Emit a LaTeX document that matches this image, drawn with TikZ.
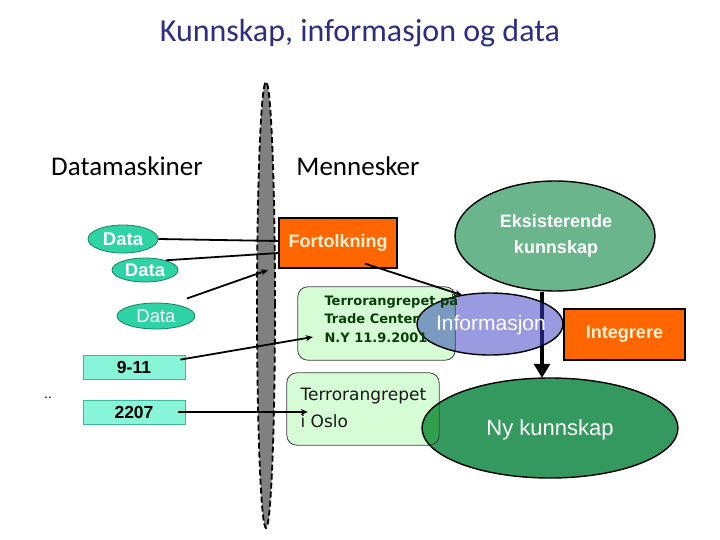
\documentclass[tikz,border=0pt]{standalone}
\usepackage{fontspec}
\setmainfont{Liberation Sans}
\newfontfamily\calfont{Carlito}
\newfontfamily\dvfont{DejaVu Sans}
\usetikzlibrary{shapes.geometric,arrows.meta}
\definecolor{titleblue}{HTML}{2E2E80}
\definecolor{datateal}{HTML}{2ED3A6}
\definecolor{dataedge}{HTML}{1E8060}
\definecolor{numfill}{HTML}{88F5D8}
\definecolor{numedge}{HTML}{3CB89A}
\definecolor{orangebox}{HTML}{FF6600}
\definecolor{creamtext}{HTML}{FFF2D5}
\definecolor{lightgreen}{HTML}{D6FCD6}
\definecolor{infoblue}{HTML}{9A9AE0}
\definecolor{infoover}{HTML}{7A9AC0}
\definecolor{eksgreen}{HTML}{6BB58D}
\definecolor{nygreen}{HTML}{33995F}
\definecolor{nyover}{HTML}{30A04E}
\definecolor{lensgray}{HTML}{808080}
\definecolor{darkgreentext}{HTML}{0B3D0B}
\definecolor{navyline}{HTML}{1E1E6A}
\tikzset{
  dataell/.style={ellipse, fill=datateal, draw=dataedge, line width=0.8pt, inner sep=0pt, text=white, font=\bfseries\fontsize{18.5}{20}\selectfont},
  numbox/.style={rectangle, fill=numfill, draw=numedge, line width=0.8pt, minimum width=102pt, minimum height=24pt, inner sep=0pt, font=\bfseries\fontsize{17.5}{19}\selectfont},
  orangerect/.style={rectangle, fill=orangebox, draw=black, line width=1.2pt, inner sep=0pt, text=creamtext, font=\bfseries\fontsize{18}{19}\selectfont},
  conn/.style={line width=1.8pt, -{Stealth[length=7pt,width=6pt]}},
  plainconn/.style={line width=1.8pt},
  headtext/.style={font=\calfont\fontsize{27}{30}\selectfont, anchor=base}
}
\begin{document}
\begin{tikzpicture}[x=1pt,y=-1pt]
\useasboundingbox[fill=white] (0,0) rectangle (720,540);

% title and headings
\node[font=\calfont\fontsize{32}{36}\selectfont, text=titleblue, anchor=base] (title) at (360,42) {Kunnskap, informasjon og data};
\node[headtext] (maskiner) at (127,176) {Datamaskiner};
\node[headtext] (mennesker) at (358,176) {Mennesker};

% lens
\node[ellipse, fill=lensgray, draw=black, line width=1.8pt, dash pattern=on 6pt off 3pt, minimum width=18pt, minimum height=446pt, inner sep=0pt] (lens) at (266,305) {};

% data side
\node[dataell, minimum width=70pt, minimum height=28pt] (d1) at (123,239) {Data};
\node[dataell, minimum width=66pt, minimum height=24pt] (d2) at (145,270) {Data};
\node[dataell, minimum width=78pt, minimum height=26pt, font=\fontsize{18.5}{20}\selectfont] (d3) at (156,316) {Data};
\node[numbox] (n911) at (134,367) {9-11};
\node[numbox] (n2207) at (134,412) {2207};
\node[font=\fontsize{14}{16}\selectfont, anchor=base] (dots) at (48,398) {..};

% human side shapes
\node[orangerect, minimum width=118pt, minimum height=50pt] (fort) at (338,243) {Fortolkning};
\node[ellipse, fill=eksgreen, draw=black, line width=1.4pt, minimum width=200pt, minimum height=110pt, inner sep=0pt] (eks) at (555,236) {};
\node[orangerect, minimum width=121pt, minimum height=51pt] (integ) at (624.5,334.5) {Integrere};
\node[ellipse, fill=nygreen, minimum width=256pt, minimum height=100pt, inner sep=0pt] (ny) at (550,428) {};

% vertical arrow
\draw[line width=4pt, -{Triangle[width=16pt,length=14pt]}] ([xshift=-13pt]eks.south) -- ([xshift=-8pt]ny.north);

% WTC box and Informasjon ellipse
\node[rectangle, rounded corners=10pt, fill=lightgreen, minimum width=157pt, minimum height=73pt, inner sep=0pt] (wtc) at (376.5,323.5) {};
\node[ellipse, fill=infoblue, minimum width=146pt, minimum height=62pt, inner sep=0pt] (info) at (490,324) {};
\begin{scope}
  \clip[rounded corners=10pt] (wtc.south west) rectangle (wtc.north east);
  \fill[infoover] (info.center) ellipse [x radius=73, y radius=31];
\end{scope}
\begin{scope}
  \clip (info.center) ellipse [x radius=73, y radius=31];
  \draw[line width=4pt, navyline] ([xshift=-13pt]eks.south) -- ([xshift=-8pt]ny.north);
\end{scope}
\draw[line width=0.8pt, black!75, rounded corners=10pt] (wtc.south west) rectangle (wtc.north east);
\draw[line width=1.4pt] (info.center) ellipse [x radius=73, y radius=31];

% Oslo box and Ny kunnskap ellipse
\node[rectangle, rounded corners=10pt, fill=lightgreen, minimum width=152pt, minimum height=72pt, inner sep=0pt] (oslo) at (363,409) {};
\begin{scope}
  \clip[rounded corners=10pt] (oslo.south west) rectangle (oslo.north east);
  \fill[nyover] (ny.center) ellipse [x radius=128, y radius=50];
\end{scope}
\draw[line width=0.8pt, black!75, rounded corners=10pt] (oslo.south west) rectangle (oslo.north east);
\draw[line width=1.4pt] (ny.center) ellipse [x radius=128, y radius=50];

% texts
\node[anchor=west, align=left, text=darkgreentext, font=\dvfont\bfseries\fontsize{13}{18.5}\selectfont] (wtctext) at (321,318) {Terrorangrepet på\\Trade Center\\N.Y 11.9.2001};
\node[text=white, font=\fontsize{21}{24}\selectfont] (infotext) at (491,325) {Informasjon};
\node[text=white, align=center, font=\bfseries\fontsize{18}{26}\selectfont] (ekstext) at (556,236) {Eksisterende\\kunnskap};
\node[anchor=west, align=left, text=black!90, font=\dvfont\fontsize{17}{27}\selectfont] (oslotext) at (297,408) {Terrorangrepet\\i Oslo};
\node[text=white, font=\fontsize{22}{24}\selectfont] (nytext) at (550,430) {Ny kunnskap};

% connectors
\draw[plainconn] (d1.east) -- ([yshift=2pt]fort.west);
\draw[plainconn] (d2.25) -- ([yshift=-10pt]fort.west);
\coordinate (lensin) at (268,270);
\draw[conn] ([xshift=3pt,yshift=8pt]d3.north east) -- (lensin);
\draw[conn] ([xshift=-5pt,yshift=-5pt]n911.north east) -- ([xshift=15pt,yshift=-13.5pt]wtc.west);
\draw[conn] ([xshift=-7pt]n2207.east) -- ([xshift=21pt,yshift=-3pt]oslo.west);
\draw[conn] ([xshift=27pt,yshift=5pt]fort.south) -- (info.134);
\end{tikzpicture}
\end{document}
